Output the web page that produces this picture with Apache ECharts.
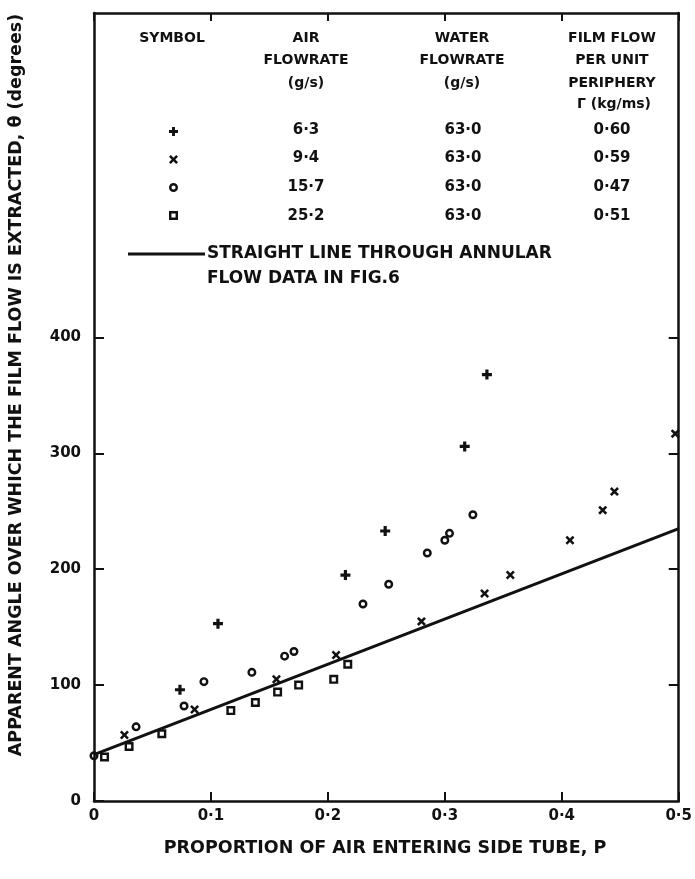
<!DOCTYPE html>
<html>
<head>
<meta charset="utf-8">
<script src="https://cdn.jsdelivr.net/npm/echarts@6/dist/echarts.min.js"></script>
<style>
  html, body { margin: 0; padding: 0; background: #fff; }
  #chart { width: 695px; height: 879px; }
</style>
</head>
<body>
<div id="chart"></div>
<script>
const font = "DejaVu Sans";
const ink = "#111";

// axis ticks and labels
const xTicks = [0, 0.1, 0.2, 0.3, 0.4, 0.5];
const xTickLabels = ["0", "0·1", "0·2", "0·3", "0·4", "0·5"];
const yTicks = [0, 100, 200, 300, 400];
const yTickLabels = ["0", "100", "200", "300", "400"];

// measured points [P, theta]
const plusData = [[0.0735, 96], [0.106, 153], [0.215, 195], [0.249, 233], [0.317, 306], [0.336, 368]];
const crossData = [[0.026, 57], [0.086, 79], [0.156, 105], [0.207, 126], [0.28, 155], [0.334, 179],
  [0.356, 195], [0.407, 225], [0.435, 251], [0.445, 267], [0.497, 317]];
const circleData = [[0, 39], [0.036, 64], [0.077, 82], [0.094, 103], [0.135, 111], [0.163, 125],
  [0.171, 129], [0.23, 170], [0.252, 187], [0.285, 214], [0.300, 225], [0.304, 231], [0.324, 247]];
const squareData = [[0.009, 38], [0.030, 47], [0.058, 58], [0.117, 78], [0.138, 85], [0.157, 94],
  [0.175, 100], [0.205, 105], [0.217, 118]];
// straight line through annular flow data (fig 6)
const lineData = [[0, 40], [0.5, 235]];

// legend table
const seriesNames = ["6·3", "9·4", "15·7", "25·2"];
const airFlow = ["6·3", "9·4", "15·7", "25·2"];
const waterFlow = ["63·0", "63·0", "63·0", "63·0"];
const filmFlow = ["0·60", "0·59", "0·47", "0·51"];

// heavy hand-drawn style markers
const plusPath = "path://M3.4,0 L6.6,0 L6.6,3.4 L10,3.4 L10,6.6 L6.6,6.6 L6.6,10 L3.4,10 L3.4,6.6 L0,6.6 L0,3.4 L3.4,3.4 Z";
const crossPath = "path://M0,2 L2,0 L5,3 L8,0 L10,2 L7,5 L10,8 L8,10 L5,7 L2,10 L0,8 L3,5 Z";
const ringPath = "path://M5,0 A5,5 0 1 1 4.99,0 Z M5,2.7 A2.3,2.3 0 1 0 5.01,2.7 Z";
const boxPath = "path://M0,0 L10,0 L10,10 L0,10 Z M2.7,2.7 L2.7,7.3 L7.3,7.3 L7.3,2.7 Z";

const chart = echarts.init(document.getElementById("chart"));

function txt(text, x, y, align, size) {
  return {
    type: "text", x: x, y: y,
    style: {
      text: text, fill: ink, font: "bold " + (size || 14) + "px '" + font + "'",
      textAlign: align || "center", textVerticalAlign: "middle"
    }
  };
}

const rowY = [130, 158, 187, 216];
const graphics = [
  txt("SYMBOL", 172, 38),
  txt("AIR", 306, 38), txt("FLOWRATE", 306, 60), txt("(g/s)", 306, 83),
  txt("WATER", 462, 38), txt("FLOWRATE", 462, 60), txt("(g/s)", 462, 83),
  txt("FILM FLOW", 612, 38), txt("PER UNIT", 612, 60), txt("PERIPHERY", 612, 83), txt("Γ (kg/ms)", 614, 104),
  {
    type: "line", shape: { x1: 128, y1: 254, x2: 205, y2: 254 },
    style: { stroke: ink, lineWidth: 3 }
  },
  txt("STRAIGHT LINE THROUGH ANNULAR", 207, 254, "left", 17),
  txt("FLOW DATA IN FIG.6", 207, 279, "left", 17),
  {
    type: "text", x: 16, y: 385, rotation: Math.PI / 2,
    style: {
      text: "APPARENT ANGLE OVER WHICH THE FILM FLOW IS EXTRACTED, θ (degrees)",
      fill: ink, font: "bold 17.5px '" + font + "'", textAlign: "center", textVerticalAlign: "middle"
    }
  },
  txt("PROPORTION OF AIR ENTERING SIDE TUBE, P", 385, 848, "center", 17.5)
];
airFlow.forEach((v, i) => {
  graphics.push(txt(v, 306, rowY[i], "center", 15));
  graphics.push(txt(waterFlow[i], 463, rowY[i], "center", 15));
  graphics.push(txt(filmFlow[i], 612, rowY[i], "center", 15));
});

const axisLine = { show: true, onZero: false, lineStyle: { color: ink, width: 2.5 } };

chart.setOption({
  animation: false,
  backgroundColor: "#fff",
  grid: { left: 94, right: 14, top: 13, bottom: 78 },
  legend: {
    orient: "vertical", left: 164, top: 122,
    itemWidth: 9, itemHeight: 9, itemGap: 19,
    selectedMode: false,
    formatter: () => "",
    textStyle: { fontSize: 8 },
    data: seriesNames
  },
  xAxis: [
    {
      type: "value", position: "bottom", min: 0, max: 0.5, interval: 0.1,
      axisLine: axisLine,
      axisTick: { inside: true, length: 9, lineStyle: { color: ink, width: 2 } },
      axisLabel: {
        margin: 8, color: ink, fontFamily: font, fontWeight: "bold", fontSize: 15,
        formatter: v => xTickLabels[xTicks.findIndex(t => Math.abs(t - v) < 1e-6)] || ""
      },
      splitLine: { show: false }
    },
    {
      type: "value", position: "top", min: 0, max: 0.5, interval: 0.1,
      axisLine: axisLine,
      axisTick: { inside: true, length: 8, lineStyle: { color: ink, width: 2 } },
      axisLabel: { show: false },
      splitLine: { show: false }
    }
  ],
  yAxis: [
    {
      type: "value", position: "left", min: 0, max: 680,
      axisLine: axisLine,
      axisTick: { inside: true, length: 10, customValues: yTicks, lineStyle: { color: ink, width: 2 } },
      axisLabel: {
        margin: 13, color: ink, fontFamily: font, fontWeight: "bold", fontSize: 15,
        customValues: yTicks,
        formatter: v => yTickLabels[yTicks.indexOf(v)] || ""
      },
      splitLine: { show: false }
    },
    {
      type: "value", position: "right", min: 0, max: 680,
      axisLine: axisLine,
      axisTick: { inside: true, length: 10, customValues: yTicks.slice(1), lineStyle: { color: ink, width: 2 } },
      axisLabel: { show: false },
      splitLine: { show: false }
    }
  ],
  graphic: graphics,
  series: [
    {
      name: seriesNames[0], type: "scatter", data: plusData, clip: false,
      symbol: plusPath, symbolSize: 10, itemStyle: { color: ink, opacity: 1 }
    },
    {
      name: seriesNames[1], type: "scatter", data: crossData, clip: false,
      symbol: crossPath, symbolSize: 9, itemStyle: { color: ink, opacity: 1 }
    },
    {
      name: seriesNames[2], type: "scatter", data: circleData, clip: false,
      symbol: ringPath, symbolSize: 9, itemStyle: { color: ink, opacity: 1 }
    },
    {
      name: seriesNames[3], type: "scatter", data: squareData, clip: false,
      symbol: boxPath, symbolSize: 9, itemStyle: { color: ink, opacity: 1 }
    },
    {
      name: "annular", type: "line", data: lineData, symbol: "none",
      lineStyle: { color: ink, width: 3 }, z: 1
    }
  ]
});
</script>
</body>
</html>
